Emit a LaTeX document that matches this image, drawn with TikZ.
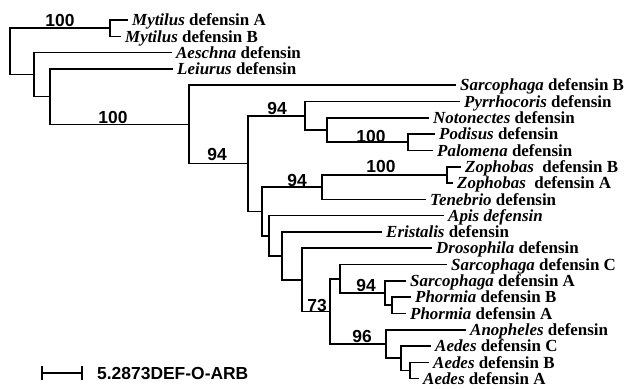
\documentclass[tikz,border=0pt]{standalone}
\usepackage{fontspec}
\setmainfont{Liberation Serif}
\newfontfamily\numfont{Liberation Sans}
\newcommand\genus[1]{\textit{#1}}
\begin{document}
\begin{tikzpicture}[x=1bp,y=-1bp,
  br/.style={line width=1.6bp,line cap=rect},
  leaf/.style={anchor=west,inner xsep=5bp,inner ysep=0pt,text height=11.5bp,text depth=0pt,
    font=\fontsize{17}{19}\selectfont\bfseries},
  boot/.style={inner sep=0pt,text height=12.5bp,text depth=0pt,
    font=\numfont\fontsize{17.5}{19}\selectfont\bfseries}]
\useasboundingbox (0,0) rectangle (627,388);
% internal nodes
\coordinate (R) at (10,51.4);
\coordinate (M) at (110,28.15);
\coordinate (N1) at (34,74.6);
\coordinate (N2) at (50,96.65);
\coordinate (N3) at (189,124.39);
\coordinate (N4) at (248,163.58);
\coordinate (N5) at (305,115.76);
\coordinate (N6) at (327,130.03);
\coordinate (NPod) at (408,142.25);
\coordinate (N7) at (262,211.4);
\coordinate (N8) at (322,187.08);
\coordinate (NZ) at (447,174.85);
\coordinate (N9) at (269,235.72);
\coordinate (N10) at (282,255.84);
\coordinate (N11) at (302,279.78);
\coordinate (N12) at (330,311.36);
\coordinate (N13) at (340,278.76);
\coordinate (N14) at (385,293.03);
\coordinate (NPh) at (392,305.25);
\coordinate (N15) at (386,343.96);
\coordinate (N16) at (401,358.23);
\coordinate (NAe) at (410,370.45);
% leaves
\node[leaf] (L0) at (127,20.0) {\genus{Mytilus} defensin A};
\node[leaf] (L1) at (120,36.3) {\genus{Mytilus} defensin B};
\node[leaf] (L2) at (171,52.6) {\genus{Aeschna} defensin};
\node[leaf] (L3) at (172,68.9) {\genus{Leiurus} defensin};
\node[leaf] (L4) at (455,85.2) {\genus{Sarcophaga} defensin B};
\node[leaf] (L5) at (459,101.5) {\genus{Pyrrhocoris} defensin};
\node[leaf] (L6) at (428,117.8) {\genus{Notonectes} defensin};
\node[leaf] (L7) at (434,134.1) {\genus{Podisus} defensin};
\node[leaf] (L8) at (432,150.4) {\genus{Palomena} defensin};
\node[leaf] (L9) at (460,166.7) {\genus{Zophobas}\ \ defensin B};
\node[leaf] (L10) at (452,183.0) {\genus{Zophobas}\ \ defensin A};
\node[leaf] (L11) at (425,199.3) {\genus{Tenebrio} defensin};
\node[leaf] (L12) at (443,215.6) {\genus{Apis defensin}};
\node[leaf] (L13) at (381,231.9) {\genus{Eristalis} defensin};
\node[leaf] (L14) at (431,248.2) {\genus{Drosophila} defensin};
\node[leaf] (L15) at (446,264.5) {\genus{Sarcophaga} defensin C};
\node[leaf] (L16) at (405,280.8) {\genus{Sarcophaga} defensin A};
\node[leaf] (L17) at (410,297.1) {\genus{Phormia} defensin B};
\node[leaf] (L18) at (405,313.4) {\genus{Phormia} defensin A};
\node[leaf] (L19) at (465,329.7) {\genus{Anopheles} defensin};
\node[leaf] (L20) at (430,346.0) {\genus{Aedes} defensin C};
\node[leaf] (L21) at (428,362.3) {\genus{Aedes} defensin B};
\node[leaf] (L22) at (418,378.6) {\genus{Aedes} defensin A};
% branches
\draw[br] (R) |- (M);  \draw[br] (R) |- (N1);
\draw[br] (M) |- (L0.west);  \draw[br] (M) |- (L1.west);
\draw[br] (N1) |- (L2.west);  \draw[br] (N1) |- (N2);
\draw[br] (N2) |- (L3.west);  \draw[br] (N2) |- (N3);
\draw[br] (N3) |- (L4.west);  \draw[br] (N3) |- (N4);
\draw[br] (N4) |- (N5);  \draw[br] (N4) |- (N7);
\draw[br] (N5) |- (L5.west);  \draw[br] (N5) |- (N6);
\draw[br] (N6) |- (L6.west);  \draw[br] (N6) |- (NPod);
\draw[br] (NPod) |- (L7.west);  \draw[br] (NPod) |- (L8.west);
\draw[br] (N7) |- (N8);  \draw[br] (N7) |- (N9);
\draw[br] (N8) |- (NZ);  \draw[br] (N8) |- (L11.west);
\draw[br] (NZ) |- (L9.west);  \draw[br] (NZ) |- (L10.west);
\draw[br] (N9) |- (L12.west);  \draw[br] (N9) |- (N10);
\draw[br] (N10) |- (L13.west);  \draw[br] (N10) |- (N11);
\draw[br] (N11) |- (L14.west);  \draw[br] (N11) |- (N12);
\draw[br] (N12) |- (N13);  \draw[br] (N12) |- (N15);
\draw[br] (N13) |- (L15.west);  \draw[br] (N13) |- (N14);
\draw[br] (N14) |- (L16.west);  \draw[br] (N14) |- (NPh);
\draw[br] (NPh) |- (L17.west);  \draw[br] (NPh) |- (L18.west);
\draw[br] (N15) |- (L19.west);  \draw[br] (N15) |- (N16);
\draw[br] (N16) |- (L20.west);  \draw[br] (N16) |- (NAe);
\draw[br] (NAe) |- (L21.west);  \draw[br] (NAe) |- (L22.west);
% bootstrap values
\node[boot] (b1) at (60,20) {100};
\node[boot] (b2) at (113,117) {100};
\node[boot] (b3) at (217,154) {94};
\node[boot] (b4) at (277,108) {94};
\node[boot] (b5) at (371,136) {100};
\node[boot] (b6) at (381,166) {100};
\node[boot] (b7) at (297,180) {94};
\node[boot] (b8) at (317,305) {73};
\node[boot] (b9) at (366,285) {94};
\node[boot] (b10) at (362,336) {96};
% scale bar
\coordinate (s1) at (42,373);
\coordinate (s2) at (82,373);
\draw[br,line cap=butt] (s1) -- (s2);
\draw[br,line cap=butt] ([yshift=-7bp]s1) -- ([yshift=7bp]s1);
\draw[br,line cap=butt] ([yshift=-7bp]s2) -- ([yshift=7bp]s2);
\node[boot,anchor=west] (sb) at (97,373) {5.2873DEF-O-ARB};
\end{tikzpicture}
\end{document}
